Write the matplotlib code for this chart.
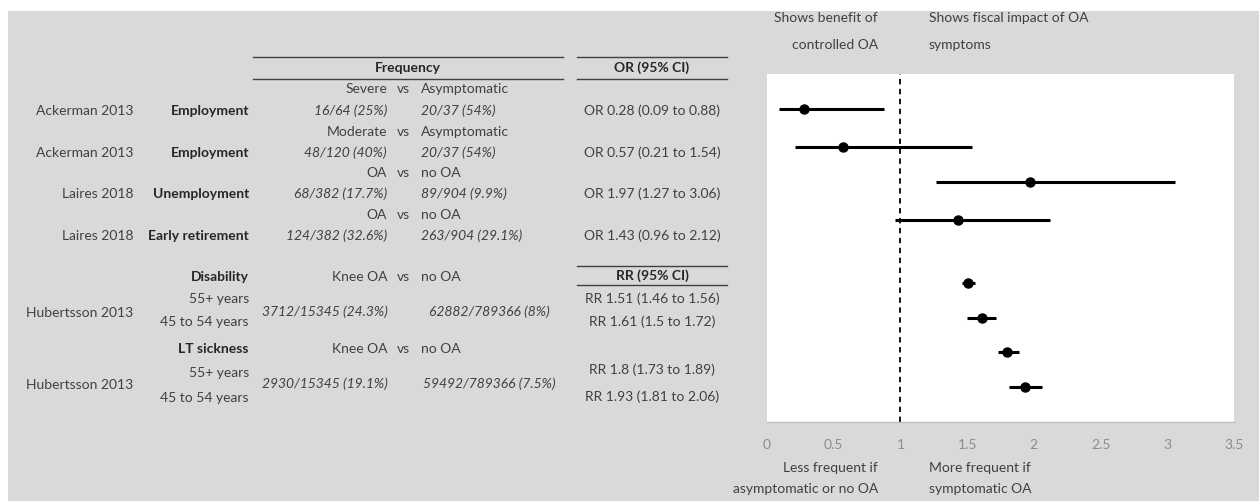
import matplotlib
matplotlib.use("Agg")
import matplotlib.pyplot as plt
from matplotlib.patches import Rectangle
from matplotlib.lines import Line2D

# ---- data ---------------------------------------------------------------
studies = ["Ackerman 2013", "Ackerman 2013", "Laires 2018", "Laires 2018"]
outcomes = ["Employment", "Employment", "Unemployment", "Early retirement"]
groups = ["Severe", "Moderate", "OA", "OA"]
comparators = ["Asymptomatic", "Asymptomatic", "no OA", "no OA"]
n_group = ["16/64 (25%)", "48/120 (40%)", "68/382 (17.7%)", "124/382 (32.6%)"]
n_comp = ["20/37 (54%)", "20/37 (54%)", "89/904 (9.9%)", "263/904 (29.1%)"]

rr_study = "Hubertsson 2013"
rr_outcomes = ["Disability", "LT sickness"]
rr_group = "Knee OA"
rr_comp = "no OA"
rr_ages = ["55+ years", "45 to 54 years"]
rr_n_group = ["3712/15345 (24.3%)", "2930/15345 (19.1%)"]
rr_n_comp = ["62882/789366 (8%)", "59492/789366 (7.5%)"]

measure = ["OR", "OR", "OR", "OR", "RR", "RR", "RR", "RR"]
est = [0.28, 0.57, 1.97, 1.43, 1.51, 1.61, 1.8, 1.93]
lo = [0.09, 0.21, 1.27, 0.96, 1.46, 1.5, 1.73, 1.81]
hi = [0.88, 1.54, 3.06, 2.12, 1.56, 1.72, 1.89, 2.06]
row_y = [9, 7.9, 6.9, 5.8, 4, 3, 2, 1]

# ---- layout -------------------------------------------------------------
W, H = 1259, 501
FONT = "Lato"
TXT = "#404040"
FS = 10
fig = plt.figure(figsize=(W / 100, H / 100), dpi=100)
fig.patch.set_facecolor("white")


def fx(x):
    return x / W


def fy(y):
    return 1 - y / H


def put(x, y, s, ha="left", weight="normal", style="normal", color=TXT, size=FS):
    fig.text(fx(x), fy(y), s, ha=ha, va="center", fontsize=size, family=FONT,
             weight=weight, style=style, color=color)


def hline(x0, x1, y):
    fig.add_artist(Line2D([fx(x0), fx(x1)], [fy(y), fy(y)], color="#404040",
                          lw=1.0, transform=fig.transFigure))


fig.add_artist(Rectangle((fx(8), 0), 1 - fx(8), fy(11), transform=fig.transFigure,
                         facecolor="#d9d9d9", edgecolor="none", zorder=0))

# table headers
hline(253, 563, 57)
hline(253, 563, 79)
hline(577, 727, 57)
hline(577, 727, 79)
hline(577, 727, 266)
hline(577, 727, 285)
put(408, 68, "Frequency", ha="center", weight="bold", color="#262626")
put(652, 68, "OR (95% CI)", ha="center", weight="bold", color="#262626")
put(652, 276, "RR (95% CI)", ha="center", weight="bold", color="#262626")

# OR rows
head_y = [89, 132, 173, 215]
data_y = [111, 153, 194, 236]
for i in range(4):
    put(387, head_y[i], groups[i], ha="right")
    put(397, head_y[i], "vs")
    put(421, head_y[i], comparators[i])
    put(133, data_y[i], studies[i], ha="right")
    put(249, data_y[i], outcomes[i], ha="right", weight="bold", color="#262626")
    put(387, data_y[i], n_group[i], ha="right", style="italic")
    put(421, data_y[i], n_comp[i], style="italic")
    put(652, data_y[i], "%s %g (%g to %g)" % (measure[i], est[i], lo[i], hi[i]),
        ha="center")

# RR rows
blk_head = [277, 349]
blk_mid = [313, 385]
age_y = [[299, 322], [373, 398]]
rr_y = [[299, 322], [370, 397]]
for b in range(2):
    put(249, blk_head[b], rr_outcomes[b], ha="right", weight="bold", color="#262626")
    put(387, blk_head[b], rr_group, ha="right")
    put(397, blk_head[b], "vs")
    put(421, blk_head[b], rr_comp)
    put(133, blk_mid[b], rr_study, ha="right")
    put(325, blk_mid[b] - 1, rr_n_group[b], ha="center", style="italic")
    put(489, blk_mid[b] - 1, rr_n_comp[b], ha="center", style="italic")
    for k in range(2):
        i = 4 + 2 * b + k
        put(249, age_y[b][k], rr_ages[k], ha="right")
        put(652, rr_y[b][k], "%s %g (%g to %g)" % (measure[i], est[i], lo[i], hi[i]),
            ha="center")

# annotations around the forest plot
put(878, 18, "Shows benefit of", ha="right")
put(878, 45, "controlled OA", ha="right")
put(929, 18, "Shows fiscal impact of OA")
put(929, 45, "symptoms")
put(878, 468, "Less frequent if", ha="right")
put(878, 489, "asymptomatic or no OA", ha="right")
put(929, 468, "More frequent if")
put(929, 489, "symptomatic OA")

# ---- forest plot --------------------------------------------------------
ax = fig.add_axes([fx(767), fy(422), fx(1234 - 767), (422 - 74) / H])
ax.set_facecolor("white")
ax.errorbar(est, row_y, xerr=[[e - l for e, l in zip(est, lo)],
                              [h - e for e, h in zip(est, hi)]],
            fmt="o", color="black", ms=6.5, elinewidth=2.2, capsize=0)
ax.axvline(1, color="black", lw=1.3, ls=(0, (3, 2.5)))
ax.set_xlim(0, 3.5)
ax.set_ylim(0, 10)
ax.set_xticks([0, 0.5, 1, 1.5, 2, 2.5, 3, 3.5])
ax.set_xticklabels(["0", "0.5", "1", "1.5", "2", "2.5", "3", "3.5"],
                   family=FONT, fontsize=FS, color="#8c8c8c")
ax.set_yticks([])
ax.tick_params(axis="x", length=0, pad=12)
for side in ["top", "left", "right"]:
    ax.spines[side].set_visible(False)
ax.spines["bottom"].set_color("#bfbfbf")
ax.spines["bottom"].set_linewidth(1)

fig.savefig("out.png", dpi=100)
